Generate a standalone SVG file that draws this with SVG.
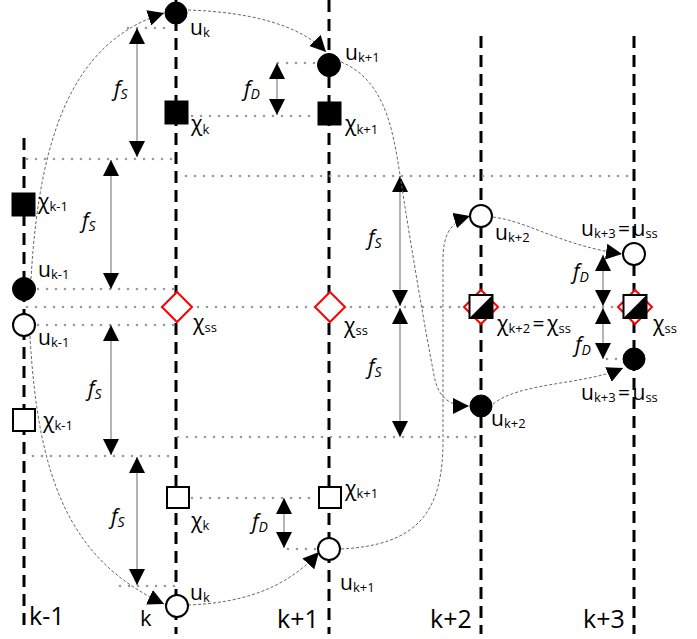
<svg xmlns="http://www.w3.org/2000/svg" width="697" height="639" viewBox="0 0 697 639">
<defs>
<style>
.ax{stroke:#000;stroke-width:3;stroke-dasharray:12 7;fill:none}
.dt{stroke:#999;stroke-width:2.6;stroke-dasharray:0 9;stroke-linecap:round;fill:none}
.dim{stroke:#777;stroke-width:1.1;fill:none;marker-start:url(#ah);marker-end:url(#ah)}
.cv{stroke:#666;stroke-width:1;stroke-dasharray:3 2;fill:none;marker-end:url(#ah)}
.fill{fill:#000;stroke:#000;stroke-width:1}
.open{fill:#fff;stroke:#000;stroke-width:2}
.dia{fill:#fff;stroke:#f00;stroke-width:2}
text{font-family:"Open Sans","Noto Sans","DejaVu Sans",sans-serif;fill:#000}
.lb{font-size:21px}
.eq{word-spacing:-3px}
.sb{font-size:13px}
.fl{font-size:21px;font-style:italic}
.fs{font-size:14px;font-style:italic}
.kx{font-size:25px}
</style>
<marker id="ah" markerUnits="userSpaceOnUse" markerWidth="16" markerHeight="16" viewBox="0 0 16 16" refX="16" refY="8" orient="auto-start-reverse">
<path d="M0,0 L16,8 L0,16 z" fill="#000"/>
</marker>
</defs>
<rect width="697" height="639" fill="#fff"/>

<g id="axes">
<line class="ax" x1="24" y1="138" x2="24" y2="626"/>
<line class="ax" x1="176" y1="0" x2="176" y2="634"/>
<line class="ax" x1="329" y1="0" x2="329" y2="634"/>
<line class="ax" x1="481" y1="36" x2="481" y2="634"/>
<line class="ax" x1="634" y1="36" x2="634" y2="634"/>
</g>

<g id="guides">
<line class="dt" x1="128" y1="28" x2="170" y2="28"/>
<line class="dt" x1="278" y1="63" x2="318" y2="63"/>
<line class="dt" x1="192" y1="116" x2="318" y2="116"/>
<line class="dt" x1="27" y1="159" x2="174" y2="159"/>
<line class="dt" x1="186" y1="176" x2="634" y2="176"/>
<line class="dt" x1="38" y1="289" x2="176" y2="289"/>
<line class="dt" x1="27" y1="307" x2="634" y2="307"/>
<line class="dt" x1="38" y1="325" x2="176" y2="325"/>
<line class="dt" x1="178" y1="437" x2="481" y2="437"/>
<line class="dt" x1="33" y1="456" x2="175" y2="456"/>
<line class="dt" x1="192" y1="498" x2="318" y2="498"/>
<line class="dt" x1="288" y1="549" x2="318" y2="549"/>
<line class="dt" x1="120" y1="586" x2="176" y2="586"/>
<line class="dt" x1="610" y1="254" x2="622" y2="254"/>
<line class="dt" x1="607" y1="359" x2="622" y2="359"/>
</g>

<g id="connectors">
<line class="dim" x1="137" y1="28" x2="137" y2="157"/>
<line class="dim" x1="111" y1="160" x2="111" y2="289"/>
<line class="dim" x1="111" y1="325" x2="111" y2="455"/>
<line class="dim" x1="137" y1="457" x2="137" y2="585"/>
<line class="dim" x1="400" y1="176" x2="400" y2="306"/>
<line class="dim" x1="400" y1="308" x2="400" y2="437"/>
<line class="dim" x1="277" y1="63" x2="277" y2="115"/>
<line class="dim" x1="284" y1="498" x2="284" y2="548"/>
<line class="dim" x1="603" y1="255" x2="603" y2="306"/>
<line class="dim" x1="603" y1="308" x2="603" y2="359"/>
<path class="cv" d="M31,279 C40,120 80,40 164,13"/>
<path class="cv" d="M188,10 C250,12 300,25 326,52"/>
<path class="cv" d="M341,62 C385,80 393,130 400,175 C410,240 425,330 435,380 C440,400 452,406 469,406"/>
<path class="cv" d="M30,336 C38,480 70,560 164,604"/>
<path class="cv" d="M188,605 C240,603 285,590 319,552"/>
<path class="cv" d="M341,549 C420,545 443,510 443,440 L443,260 C443,235 450,222 470,216"/>
<path class="cv" d="M493,217 C530,222 560,245 622,254"/>
<path class="cv" d="M493,404 C520,382 585,385 623,368"/>
</g>

<g id="labels-f">
<text class="fl" x="114" y="96">f<tspan class="fs" dy="3">S</tspan></text>
<text class="fl" x="82" y="228">f<tspan class="fs" dy="3">S</tspan></text>
<text class="fl" x="88" y="396">f<tspan class="fs" dy="3">S</tspan></text>
<text class="fl" x="111" y="524">f<tspan class="fs" dy="3">S</tspan></text>
<text class="fl" x="368" y="245">f<tspan class="fs" dy="3">S</tspan></text>
<text class="fl" x="368" y="374">f<tspan class="fs" dy="3">S</tspan></text>
<text class="fl" x="244" y="96">f<tspan class="fs" dy="3">D</tspan></text>
<text class="fl" x="252" y="529">f<tspan class="fs" dy="3">D</tspan></text>
<text class="fl" x="573" y="279">f<tspan class="fs" dy="3">D</tspan></text>
<text class="fl" x="575" y="352">f<tspan class="fs" dy="3">D</tspan></text>
</g>

<g id="u_k_top"><circle class="fill" cx="176" cy="13" r="11"/><text class="lb" x="190" y="35">u<tspan class="sb" dy="2">k</tspan></text></g>
<g id="chi_k_top"><rect class="fill" x="165" y="101" width="23" height="23"/><text class="lb" x="191" y="131">χ<tspan class="sb" dy="3">k</tspan></text></g>
<g id="u_k1_top"><circle class="fill" cx="329" cy="65" r="11.5"/><text class="lb" x="345" y="60">u<tspan class="sb" dy="2">k+1</tspan></text></g>
<g id="chi_k1_top"><rect class="fill" x="318" y="102" width="23" height="23"/><text class="lb" x="345" y="131">χ<tspan class="sb" dy="3">k+1</tspan></text></g>
<g id="chi_km1_top"><rect class="fill" x="12" y="193" width="23" height="23"/><text class="lb" x="38" y="209">χ<tspan class="sb" dy="2">k-1</tspan></text></g>
<g id="u_km1_top"><circle class="fill" cx="24" cy="289" r="11.5"/><text class="lb" x="38" y="277">u<tspan class="sb" dy="2">k-1</tspan></text></g>
<g id="u_km1_bot"><circle class="open" cx="24" cy="325" r="11"/><text class="lb" x="38" y="345">u<tspan class="sb" dy="2">k-1</tspan></text></g>
<g id="chi_ss_k"><path class="dia" d="M177,292 L192,307 L177,322 L162,307 z"/><text class="lb" x="193" y="330">χ<tspan class="sb" dy="2">ss</tspan></text></g>
<g id="chi_ss_k1"><path class="dia" d="M330,292 L345,307 L330,322 L315,307 z"/><text class="lb" x="344" y="333">χ<tspan class="sb" dy="2">ss</tspan></text></g>
<g id="chi_km1_bot"><rect class="open" x="13" y="409" width="22" height="22"/><text class="lb" x="43" y="428">χ<tspan class="sb" dy="2">k-1</tspan></text></g>
<g id="chi_k_bot"><rect class="open" x="167" y="487" width="22" height="21"/><text class="lb" x="191" y="528">χ<tspan class="sb" dy="2">k</tspan></text></g>
<g id="u_k_bot"><circle class="open" cx="177" cy="606" r="11"/><text class="lb" x="190" y="600">u<tspan class="sb" dy="2">k</tspan></text></g>
<g id="chi_k1_bot"><rect class="open" x="319" y="487" width="22" height="21"/><text class="lb" x="345" y="496">χ<tspan class="sb" dy="2">k+1</tspan></text></g>
<g id="u_k1_bot"><circle class="open" cx="329" cy="549" r="11"/><text class="lb" x="340" y="590">u<tspan class="sb" dy="2">k+1</tspan></text></g>
<g id="u_k2_top"><circle class="open" cx="481" cy="216" r="11"/><text class="lb" x="495" y="240">u<tspan class="sb" dy="2">k+2</tspan></text></g>
<g id="chi_k2"><path class="dia" d="M481,290 L498,307 L481,324 L464,307 z"/><rect x="469.5" y="295" width="23" height="23" fill="#fff" stroke="none"/><path d="M469.5,318 L492.5,295 L492.5,318 z" fill="#000"/><rect x="469.5" y="295" width="23" height="23" fill="none" stroke="#000" stroke-width="2"/><text class="lb eq" x="497" y="331">χ<tspan class="sb" dy="2">k+2</tspan><tspan dy="-2"> = χ</tspan><tspan class="sb" dy="2">ss</tspan></text></g>
<g id="u_k2_bot"><circle class="fill" cx="481" cy="406" r="11"/><text class="lb" x="491" y="426">u<tspan class="sb" dy="2">k+2</tspan></text></g>
<g id="u_k3_top"><circle class="open" cx="634" cy="254" r="11"/><text class="lb eq" x="581" y="236">u<tspan class="sb" dy="2">k+3</tspan><tspan dy="-2"> = u</tspan><tspan class="sb" dy="2">ss</tspan></text></g>
<g id="chi_k3"><path class="dia" d="M635,290 L652,307 L635,324 L618,307 z"/><rect x="623.5" y="295" width="23" height="23" fill="#fff" stroke="none"/><path d="M623.5,318 L646.5,295 L646.5,318 z" fill="#000"/><rect x="623.5" y="295" width="23" height="23" fill="none" stroke="#000" stroke-width="2"/><text class="lb" x="653" y="331">χ<tspan class="sb" dy="2">ss</tspan></text></g>
<g id="u_k3_bot"><circle class="fill" cx="634" cy="359" r="11"/><text class="lb eq" x="581" y="400">u<tspan class="sb" dy="2">k+3</tspan><tspan dy="-2"> = u</tspan><tspan class="sb" dy="2">ss</tspan></text></g>

<g id="step-labels">
<text class="kx" x="29" y="625">k-1</text>
<text class="kx" x="140" y="626" style="font-size:22px">k</text>
<text class="kx" x="277" y="628">k+1</text>
<text class="kx" x="430" y="628">k+2</text>
<text class="kx" x="583" y="628">k+3</text>
</g>
</svg>
